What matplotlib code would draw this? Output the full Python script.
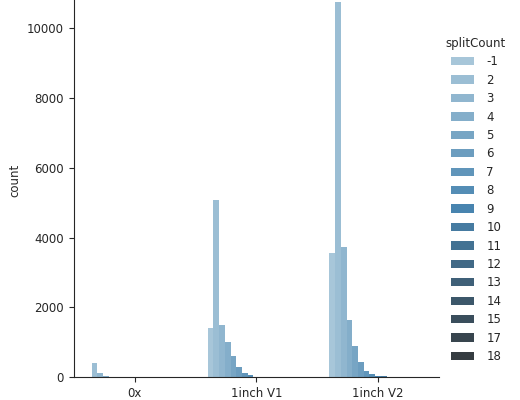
import numpy as np
import matplotlib
matplotlib.use("Agg")
import matplotlib.pyplot as plt
import seaborn as sns

# counts per splitCount level
categories = ["0x", "1inch V1", "1inch V2"]
split_levels = ["-1", "2", "3", "4", "5", "6", "7", "8", "9", "10",
                "11", "12", "13", "14", "15", "17", "18"]
counts_0x = [0, 400, 115, 45, 15, 5, 2, 0, 0, 0, 0, 0, 0, 0, 0, 0, 0]
counts_v1 = [1420, 5080, 1500, 1020, 620, 280, 125, 57, 20, 8, 4, 2, 1, 0, 0, 0, 0]
counts_v2 = [3570, 10745, 3740, 1640, 880, 430, 180, 86, 40, 25, 15, 8, 4, 2, 1, 1, 1]

counts = np.array([counts_0x, counts_v1, counts_v2])

sns.set_style("ticks")
plt.rcParams["font.family"] = ["DejaVu Sans"]
plt.rcParams["font.size"] = 8.5

colors = sns.color_palette("Blues_d", len(split_levels), desat=0.75)

fig = plt.figure(figsize=(5.2, 4), dpi=100)
# top of the axes is cut off in the reference, so it sits above the figure
ax = fig.add_axes([0.142, 0.057, 0.702, 0.985])

n = len(split_levels)
w = 0.8 / n
x = np.arange(len(categories))
for j, lev in enumerate(split_levels):
    ax.bar(x - 0.4 + w * (j + 0.5), counts[:, j], width=w, color=colors[j],
           label=lev, linewidth=0)

ax.set_xlim(-0.5, len(categories) - 0.5)
ax.set_ylim(0, counts.max() * 1.05)
ax.set_xticks(x)
ax.set_xticklabels(categories)
ax.set_yticks(np.arange(0, 10001, 2000))
ax.set_ylabel("count")
sns.despine(ax=ax)

leg = fig.legend(title="splitCount", loc="center left", bbox_to_anchor=(0.837, 0.5),
                 frameon=False, labelspacing=0.46, handletextpad=1.0,
                 title_fontsize=8.5)

fig.savefig("out.png", dpi=100)
